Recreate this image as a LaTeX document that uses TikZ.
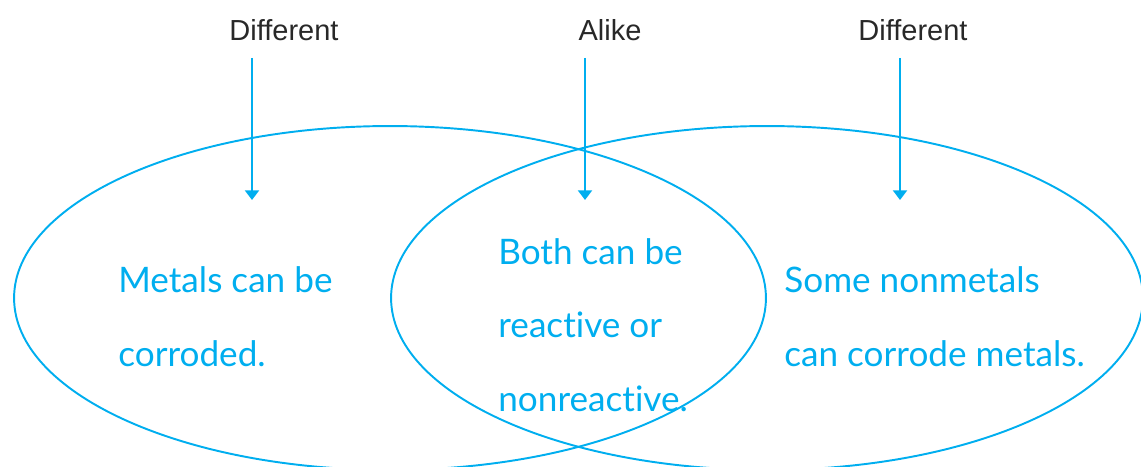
\documentclass[tikz,border=0pt]{standalone}
\usepackage{fontspec}
\setmainfont{Lato}[Ligatures={NoCommon}]
\newfontfamily\labelfont{Liberation Sans}
\usepackage{xcolor}
\usetikzlibrary{arrows.meta, shapes.geometric}
\definecolor{vennblue}{RGB}{0,174,239}
\definecolor{labelgray}{RGB}{40,40,40}
\tikzset{
    set/.style={ellipse, draw=vennblue, line width=1.1pt, inner sep=0pt, outer sep=0pt, minimum width=15.04cm, minimum height=6.88cm},
    heading/.style={font=\labelfont\fontsize{16.5}{18}\selectfont, text=labelgray, inner sep=0pt},
    fact/.style={font=\fontsize{20}{42}\selectfont, text=vennblue, align=left, anchor=west, inner sep=0pt},
    arrow/.style={-{Triangle[width=8pt, length=5.5pt]}, draw=vennblue, line width=1.1pt}
}
\begin{document}
\begin{tikzpicture}[x=0.02cm, y=-0.02cm]
    \useasboundingbox (0,0) rectangle (1141,466);

    % Sets
    \node[set] (metals) at (390,298) {};
    \node[set] (nonmetals) at (767,298) {};

    % Headings
    \node[heading] (diffL) at (284,30) {Different};
    \node[heading] (alike) at (610,30) {Alike};
    \node[heading] (diffR) at (913,30) {Different};

    % Arrow ends
    \coordinate (topL) at (252,58);
    \coordinate (tipL) at (252,200);
    \coordinate (topM) at (585,58);
    \coordinate (tipM) at (585,200);
    \coordinate (topR) at (900,58);
    \coordinate (tipR) at (900,200);

    % Arrows
    \draw[arrow] (topL) -- (tipL);
    \draw[arrow] (topM) -- (tipM);
    \draw[arrow] (topR) -- (tipR);

    % Facts
    \node[fact] (factL) at (118,317) {Metals can be\\corroded.};
    \node[fact] (factM) at (498,325) {Both can be\\reactive or\\nonreactive.};
    \node[fact] (factR) at (784,317) {Some nonmetals\\can corrode metals.};
\end{tikzpicture}
\end{document}
